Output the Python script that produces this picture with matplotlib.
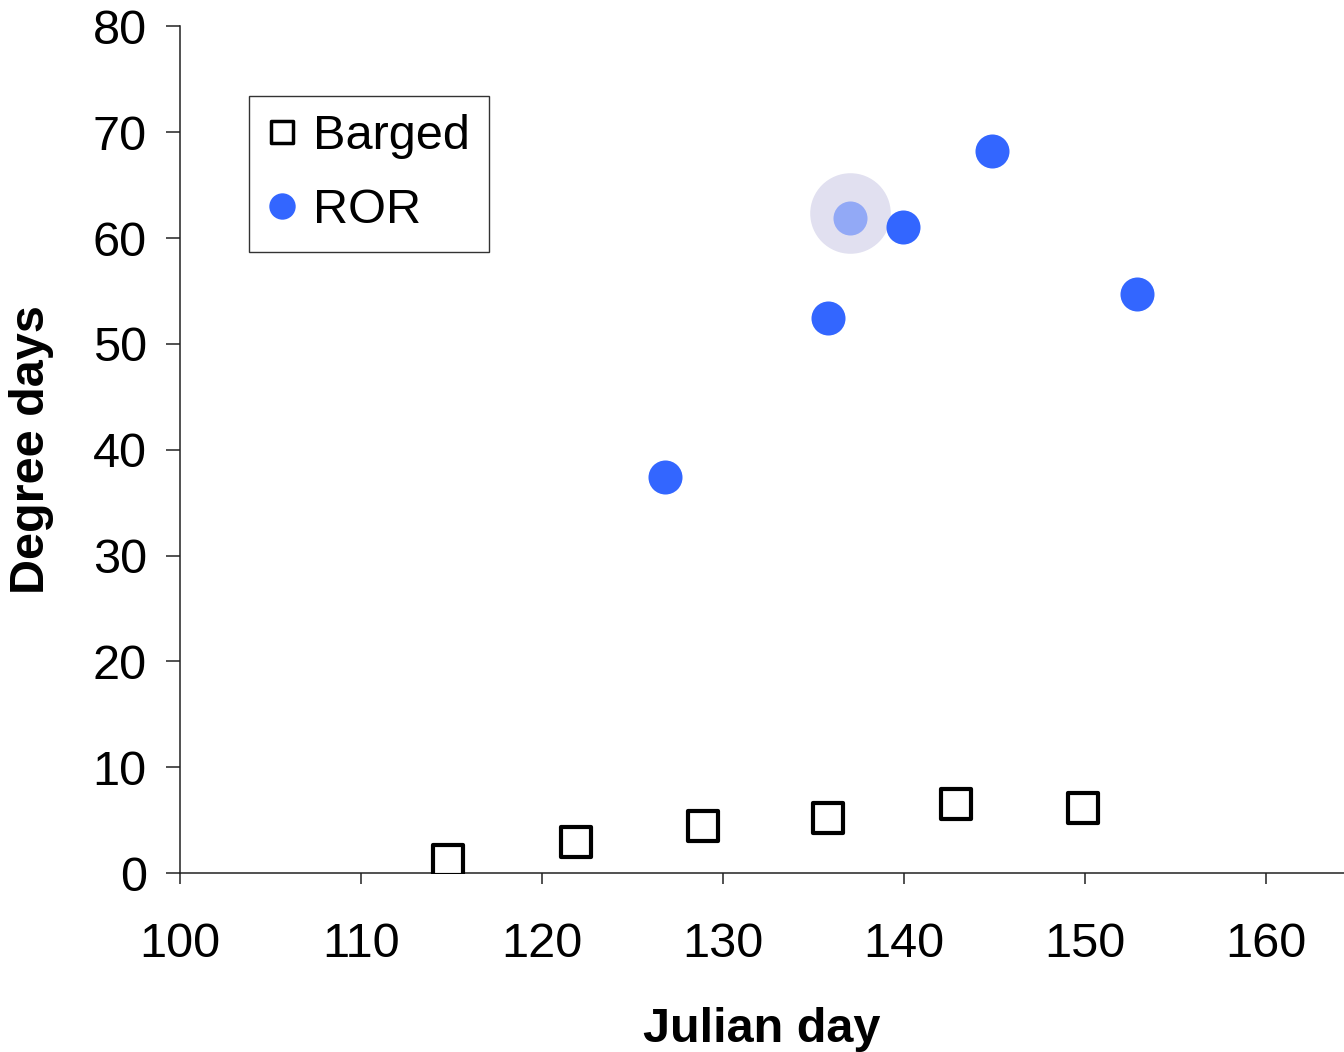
import matplotlib.pyplot as plt
from matplotlib.path import Path

plt.rcParams['font.family'] = ['Liberation Sans', 'DejaVu Sans']

# Barged fish
barged_day = [114.8, 121.85, 128.9, 135.8, 142.85, 149.9]
barged_dd = [1.2, 2.9, 4.5, 5.2, 6.5, 6.2]

# run-of-river fish
ror_day = [126.8, 135.8, 139.95, 144.85, 152.85]
ror_dd = [37.4, 52.4, 61.0, 68.2, 54.7]

# highlighted ROR point
hl_day = [137.0]
hl_dd = [61.9]

fig = plt.figure(figsize=(13.44, 10.52), dpi=100)
ax = fig.add_axes([0.134, 0.170, 0.866, 0.805])

sq = Path([(-1, -1), (1, -1), (1, 1), (-1, 1), (-1, -1)],
          [Path.MOVETO, Path.LINETO, Path.LINETO, Path.LINETO, Path.CLOSEPOLY])

ax.plot(barged_day, barged_dd, ls='none', marker=sq, ms=21, mfc='white',
        mec='black', mew=3, label='Barged', zorder=3)
ax.plot(ror_day, ror_dd, ls='none', marker='o', ms=24.5, mfc='#3366ff',
        mec='none', label='ROR', zorder=3)

# highlight halo + faded point
ax.plot(hl_day, [v + 0.5 for v in hl_dd], ls='none', marker='o', ms=58,
        mfc='#e1e0f0', mec='none', zorder=2)
ax.plot(hl_day, hl_dd, ls='none', marker='o', ms=24.5, mfc='#3366ff',
        mec='none', alpha=0.45, zorder=4)

ax.set_xlim(100, 164.3)
ax.set_ylim(0, 80)
ax.set_xticks(range(100, 161, 10))
ax.set_yticks(range(0, 81, 10))

for s in ['top', 'right']:
    ax.spines[s].set_visible(False)
for s in ['left', 'bottom']:
    ax.spines[s].set_color('#222222')
    ax.spines[s].set_linewidth(1.1)

ax.tick_params(axis='x', direction='out', length=8, width=1.1, color='#222222',
               labelsize=35, pad=27)
ax.tick_params(axis='y', direction='out', length=10, width=1.1, color='#222222',
               labelsize=35, pad=14)

ax.set_xlabel('Julian day', fontsize=35, fontweight='bold', labelpad=29)
ax.set_ylabel('Degree days', fontsize=35, fontweight='bold', labelpad=28)

leg = ax.legend(loc='upper left', bbox_to_anchor=(0.185, 0.909),
                bbox_transform=fig.transFigure, fontsize=35, frameon=True,
                fancybox=False, edgecolor='black', handlelength=0.6,
                handletextpad=0.35, borderpad=0.38, labelspacing=0.6,
                borderaxespad=0)
leg.get_frame().set_linewidth(1.0)
leg.legend_handles[1].set_markersize(19)
leg.legend_handles[0].set_markersize(16)
leg.legend_handles[0].set_markeredgewidth(2.5)

fig.savefig('out.png', dpi=100)
